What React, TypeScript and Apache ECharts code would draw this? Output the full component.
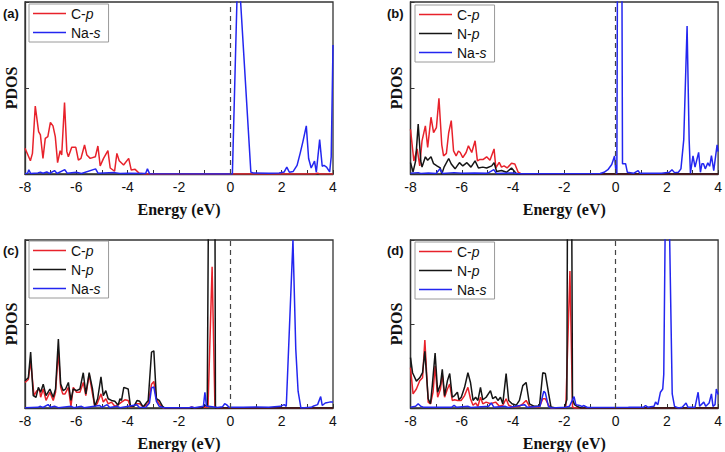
import React, { useEffect, useRef } from "react";
import * as echarts from "echarts";

// x ticks / labels
const xTicks = [-8, -6, -4, -2, 0, 2, 4];
const panelLabels = ["(a)", "(b)", "(c)", "(d)"];

// Panel (a)
const aCp = [[-8,0.15],[-7.79,0.077],[-7.71,0.12],[-7.6,0.395],[-7.47,0.246],[-7.4,0.227],[-7.3,0.091],[-7.21,0.207],[-7.11,0.217],[-7.01,0.3],[-6.91,0.28],[-6.82,0.217],[-6.73,0.066],[-6.63,0.135],[-6.57,0.11],[-6.46,0.415],[-6.37,0.13],[-6.31,0.1],[-6.18,0.155],[-6.02,0.155],[-5.92,0.081],[-5.82,0.091],[-5.68,0.169],[-5.59,0.11],[-5.46,0.091],[-5.26,0.1],[-5.16,0.163],[-5.07,0.047],[-4.94,0.091],[-4.77,0.136],[-4.68,0.035],[-4.51,0.016],[-4.42,0.12],[-4.33,0.077],[-4.16,0.052],[-3.96,0.091],[-3.86,0.023],[-3.71,0.027],[-3.55,0.004],[-3.3,0],[3.3,0],[3.4,0.005],[3.5,0],[4,0]];
const aNas = [[-8,0.003],[-7.9,0.005],[-7.85,0.025],[-7.78,0.003],[-7.5,0.006],[-7.4,0.01],[-7.3,0.004],[-7.15,0.012],[-7.05,0.003],[-6.85,0.02],[-6.75,0.003],[-6.45,0.025],[-6.35,0.004],[-6.0,0.01],[-5.8,0.003],[-5.25,0.03],[-5.15,0.004],[-4.5,0.008],[-4.3,0.003],[-4.0,0.005],[-3.3,0.003],[-3.23,0.03],[-3.15,0.002],[0.08,0],[0.3,1.25],[0.8,0.01],[0.9,0.006],[1.5,0.005],[1.9,0.006],[2.1,0.012],[2.2,0.04],[2.3,0.01],[2.45,0.015],[2.6,0.05],[2.72,0.12],[2.83,0.19],[2.96,0.28],[3.05,0.09],[3.09,0.068],[3.15,0.035],[3.28,0.075],[3.35,0.01],[3.48,0.2],[3.58,0.045],[3.65,0.05],[3.75,0.04],[3.87,0.012],[3.93,0.1],[4.0,0.75]];

// Panel (b)
const bCp = [[-8,0.26],[-7.87,0.076],[-7.74,0.146],[-7.64,0.047],[-7.55,0.193],[-7.42,0.28],[-7.33,0.154],[-7.2,0.33],[-7.1,0.24],[-6.99,0.27],[-6.89,0.44],[-6.78,0.17],[-6.71,0.105],[-6.6,0.12],[-6.51,0.24],[-6.41,0.31],[-6.32,0.134],[-6.22,0.105],[-6.13,0.134],[-6.06,0.125],[-5.96,0.095],[-5.83,0.125],[-5.74,0.164],[-5.61,0.125],[-5.48,0.193],[-5.39,0.076],[-5.29,0.085],[-5.16,0.085],[-5.03,0.1],[-4.9,0.08],[-4.74,0.146],[-4.67,0.035],[-4.54,0.068],[-4.45,0.04],[-4.35,0.047],[-4.23,0.035],[-4.06,0.062],[-3.93,0.058],[-3.8,0.01],[-3.67,0],[4,0]];
const bNp = [[-8,0.066],[-7.9,0.012],[-7.8,0.076],[-7.7,0.29],[-7.6,0.076],[-7.55,0.04],[-7.42,0.1],[-7.33,0.08],[-7.2,0.1],[-7.1,0.06],[-6.97,0.047],[-6.84,0.035],[-6.78,0.0],[-6.69,0.04],[-6.51,0.09],[-6.41,0.058],[-6.26,0.03],[-6.09,0.066],[-5.96,0.047],[-5.8,0.066],[-5.64,0.04],[-5.48,0.076],[-5.35,0.035],[-5.18,0.04],[-5.03,0.035],[-4.83,0.047],[-4.74,0.066],[-4.64,0.015],[-4.45,0.02],[-4.25,0.01],[-4.06,0.035],[-3.86,0.0],[4,0]];
const bNas = [[-8,0.004],[-7.7,0.008],[-7.6,0.003],[-7.3,0.006],[-7.0,0.003],[-6.85,0.03],[-6.75,0.003],[-6.3,0.008],[-6.0,0.004],[-5.5,0.006],[-5.0,0.004],[-4.75,0.025],[-4.65,0.003],[-4.0,0.006],[-3.8,0.002],[-0.6,0.003],[-0.45,0.01],[-0.3,0.025],[-0.15,0.055],[-0.04,0.105],[0.02,0.002],[0.05,0.005],[0.1,2.5],[0.22,2.5],[0.27,0.06],[0.39,0.06],[0.46,0.01],[0.7,0.004],[0.88,0.02],[0.95,0.004],[1.8,0.004],[2.1,0.01],[2.2,0.025],[2.3,0.008],[2.45,0.01],[2.55,0.03],[2.66,0.2],[2.79,0.86],[2.87,0.2],[2.92,0.004],[3.02,0.105],[3.1,0.04],[3.24,0.126],[3.31,0.01],[3.37,0.06],[3.43,0.06],[3.5,0.03],[3.6,0.065],[3.67,0.045],[3.74,0.107],[3.83,0.02],[3.96,0.17],[4.0,0.13]];

// Panel (c)
const cCp = [[-8,0.152],[-7.87,0.17],[-7.78,0.28],[-7.65,0.074],[-7.55,0.1],[-7.44,0.113],[-7.39,0.064],[-7.29,0.113],[-7.18,0.045],[-7.03,0.094],[-6.9,0.045],[-6.81,0.094],[-6.7,0.337],[-6.61,0.123],[-6.53,0.084],[-6.44,0.084],[-6.31,0.123],[-6.21,0.01],[-6.12,0.123],[-5.99,0.094],[-5.86,0.094],[-5.73,0.152],[-5.63,0.074],[-5.5,0.2],[-5.37,0.084],[-5.28,0.01],[-5.19,0.025],[-5.04,0.084],[-4.95,0.035],[-4.85,0.055],[-4.76,0.025],[-4.63,0.035],[-4.5,0.01],[-4.33,0.025],[-4.24,0.035],[-4.11,0.049],[-3.98,0.045],[-3.89,0.006],[-3.78,0.01],[-3.65,0.025],[-3.53,0.025],[-3.4,0.006],[-3.2,0.025],[-3.07,0.142],[-2.98,0.158],[-2.88,0.055],[-2.77,0.025],[-2.62,0],[-1.6,0],[-1.51,0.006],[-1.4,0],[-0.87,0.006],[-0.71,0.84],[-0.6,0.006],[-0.5,0],[4,0]];
const cNp = [[-8,0.162],[-7.87,0.18],[-7.78,0.333],[-7.68,0.074],[-7.57,0.064],[-7.48,0.123],[-7.39,0.094],[-7.29,0.142],[-7.18,0.074],[-7.03,0.113],[-6.9,0.064],[-6.81,0.113],[-6.7,0.41],[-6.61,0.142],[-6.51,0.103],[-6.42,0.113],[-6.31,0.152],[-6.21,0.045],[-6.12,0.113],[-5.99,0.103],[-5.86,0.113],[-5.73,0.21],[-5.63,0.084],[-5.5,0.21],[-5.37,0.113],[-5.28,0.01],[-5.17,0.055],[-5.04,0.185],[-4.95,0.074],[-4.85,0.103],[-4.76,0.055],[-4.63,0.045],[-4.5,0.04],[-4.37,0.016],[-4.3,0.055],[-4.24,0.045],[-4.15,0.123],[-3.98,0.113],[-3.89,0.01],[-3.76,0.01],[-3.63,0.045],[-3.53,0.04],[-3.4,0.006],[-3.2,0.045],[-3.07,0.333],[-2.98,0.34],[-2.88,0.055],[-2.77,0.045],[-2.64,0.01],[-2.55,0],[-1.1,0],[-1.0,0.016],[-0.9,0.01],[-0.8,2.5],[-0.62,2.5],[-0.58,0],[4,0]];
const cNas = [[-8,0.002],[-7.5,0.004],[-7.4,0.01],[-7.3,0.003],[-7.1,0.02],[-7.0,0.004],[-6.85,0.01],[-6.7,0.002],[-6.2,0.01],[-6.1,0.002],[-5.8,0.01],[-5.7,0.002],[-5.1,0.015],[-5.0,0.004],[-4.8,0.02],[-4.7,0.003],[-4.4,0.01],[-4.3,0.002],[-3.65,0.02],[-3.55,0.004],[-3.3,0.003],[-3.15,0.03],[-3.07,0.12],[-2.98,0.125],[-2.88,0.04],[-2.77,0.01],[-2.6,0.002],[-1.6,0.002],[-1.5,0.006],[-1.4,0.002],[-1.05,0.01],[-0.99,0.094],[-0.93,0.01],[-0.85,0.01],[-0.5,0.003],[-0.3,0.008],[-0.22,0.025],[-0.15,0.02],[-0.05,0.004],[0.5,0.004],[1.0,0.006],[1.5,0.004],[1.95,0.01],[2.1,0.02],[2.18,0.01],[2.44,1.0],[2.55,0.35],[2.64,0.1],[2.75,0],[3.15,0.004],[3.22,0.01],[3.4,0.02],[3.52,0.068],[3.58,0.015],[3.7,0.03],[3.87,0.035],[4.0,0.035]];

// Panel (d)
const dCp = [[-8,0.24],[-7.9,0.084],[-7.77,0.113],[-7.64,0.162],[-7.53,0.18],[-7.44,0.405],[-7.31,0.035],[-7.22,0.025],[-7.12,0.094],[-7.04,0.25],[-6.94,0.064],[-6.83,0.113],[-6.76,0.2],[-6.67,0.064],[-6.56,0.113],[-6.47,0.142],[-6.37,0.045],[-6.28,0.049],[-6.17,0.045],[-6.02,0.045],[-5.89,0.074],[-5.76,0.123],[-5.66,0.055],[-5.56,0.016],[-5.46,0.03],[-5.37,0.01],[-5.27,0.064],[-5.18,0.025],[-5.05,0.035],[-4.88,0.025],[-4.68,0.035],[-4.53,0.01],[-4.4,0.016],[-4.27,0.055],[-4.17,0.016],[-4.01,0.006],[-3.75,0.01],[-3.62,0.025],[-3.49,0.045],[-3.36,0.01],[-2.97,0.006],[-2.84,0.055],[-2.74,0.055],[-2.61,0.016],[-2.52,0],[-2.0,0],[-1.94,0.006],[-1.78,0.815],[-1.68,0.006],[-1.6,0],[4,0]];
const dNp = [[-8,0.3],[-7.92,0.21],[-7.77,0.16],[-7.64,0.18],[-7.53,0.21],[-7.44,0.337],[-7.31,0.055],[-7.22,0.025],[-7.15,0.133],[-7.04,0.327],[-6.94,0.094],[-6.83,0.142],[-6.76,0.23],[-6.67,0.074],[-6.56,0.162],[-6.47,0.205],[-6.37,0.064],[-6.28,0.074],[-6.17,0.094],[-6.11,0.049],[-6.02,0.064],[-5.89,0.123],[-5.76,0.21],[-5.66,0.152],[-5.56,0.045],[-5.46,0.064],[-5.37,0.045],[-5.27,0.123],[-5.18,0.049],[-5.05,0.064],[-4.88,0.103],[-4.79,0.055],[-4.68,0.068],[-4.59,0.045],[-4.49,0.064],[-4.4,0.025],[-4.27,0.205],[-4.17,0.045],[-4.04,0.025],[-3.88,0.016],[-3.75,0.045],[-3.62,0.133],[-3.49,0.152],[-3.36,0.025],[-3.17,0.01],[-2.97,0.01],[-2.84,0.21],[-2.74,0.205],[-2.61,0.084],[-2.52,0.006],[-2.33,0],[-2.0,0],[-1.9,0.05],[-1.84,3],[-1.76,3],[-1.68,0.05],[-1.6,0.02],[-1.5,0.01],[-1.35,0],[4,0]];
const dNas = [[-8,0.005],[-7.8,0.01],[-7.7,0.025],[-7.6,0.01],[-7.5,0.005],[-6.4,0.004],[-6.3,0.015],[-6.2,0.004],[-5.75,0.01],[-5.65,0.003],[-4.95,0.01],[-4.85,0.03],[-4.75,0.005],[-4.3,0.01],[-4.2,0.003],[-3.55,0.02],[-3.45,0.004],[-2.95,0.01],[-2.8,0.1],[-2.74,0.09],[-2.62,0.01],[-2.5,0],[-1.95,0.005],[-1.8,0.01],[-1.62,0.068],[-1.55,0.02],[-1.4,0.015],[-1.3,0.008],[-1.25,0.015],[-1.1,0.003],[0.5,0.004],[1.1,0.005],[1.17,0.015],[1.25,0.005],[1.5,0.01],[1.56,0.035],[1.65,0.02],[1.75,0.094],[1.84,0.113],[1.88,0.2],[1.95,1.3],[2.05,1.5],[2.1,1.1],[2.21,0.084],[2.3,0.01],[2.45,0],[2.6,0.005],[2.75,0.03],[2.82,0.005],[3.1,0.005],[3.22,0.094],[3.28,0.01],[3.44,0.035],[3.52,0.01],[3.65,0.03],[3.74,0.084],[3.8,0.01],[3.88,0.02],[3.93,0.113],[4.0,0.08]];

const panelData = [
  { cp: aCp, np: null as number[][] | null, nas: aNas },
  { cp: bCp, np: bNp, nas: bNas },
  { cp: cCp, np: cNp, nas: cNas },
  { cp: dCp, np: dNp, nas: dNas },
];

const grids = [
  { left: 25, top: 2, width: 308, height: 172 },
  { left: 410.5, top: 2, width: 308.5, height: 172 },
  { left: 25, top: 240, width: 308, height: 171 },
  { left: 410.5, top: 240, width: 308.5, height: 171 },
];
const legendPos = [
  { left: 29, top: 4 },
  { left: 415, top: 5 },
  { left: 29, top: 241 },
  { left: 415, top: 242 },
];
const labelPos = [
  { x: 3, y: 15 },
  { x: 387, y: 15 },
  { x: 3, y: 252 },
  { x: 387, y: 252 },
];

const colors: Record<string, string> = { "C-p": "#e8222b", "N-p": "#151515", "Na-s": "#2326f0" };
const SANS = "'Liberation Sans', Arial, sans-serif";
const SERIF = "'Liberation Serif', 'Times New Roman', serif";

export default function App() {
  const ref = useRef<HTMLDivElement>(null);
  useEffect(() => {
    if (!ref.current) return;
    const chart = echarts.init(ref.current, null, { renderer: "svg" });
    const xAxes: any[] = [];
    const yAxes: any[] = [];
    const series: any[] = [];
    const legends: any[] = [];
    const graphics: any[] = [];
    grids.forEach((g, i) => {
      xAxes.push({
        type: "value", gridIndex: i, min: xTicks[0], max: xTicks[xTicks.length - 1], interval: 2,
        name: "Energy (eV)", nameLocation: "middle", nameGap: 27,
        nameTextStyle: { fontFamily: SERIF, fontWeight: "bold", fontSize: 16, color: "#111" },
        axisLine: { show: true, onZero: false, lineStyle: { color: "#333", width: 1.3 } },
        axisTick: { show: true, inside: true, length: 4, lineStyle: { color: "#333" } },
        minorTick: { show: true, splitNumber: 2, length: 4, lineStyle: { color: "#333" } },
        axisLabel: { fontFamily: SANS, fontSize: 14, color: "#111", margin: 6 },
        splitLine: { show: false },
      });
      yAxes.push({
        type: "value", gridIndex: i, min: 0, max: 1, interval: 0.5,
        name: "PDOS", nameLocation: "middle", nameGap: 6, nameRotate: 90,
        nameTextStyle: { fontFamily: SERIF, fontWeight: "bold", fontSize: 16, color: "#111" },
        axisLine: { show: true, onZero: false, lineStyle: { color: "#333", width: 1.3 } },
        axisTick: { show: true, inside: true, length: 4, lineStyle: { color: "#333" } },
        axisLabel: { show: false },
        splitLine: { show: false },
      });
      const pd = panelData[i];
      const list: [string, number[][] | null][] = [["C-p", pd.cp], ["N-p", pd.np], ["Na-s", pd.nas]];
      const names: string[] = [];
      list.forEach(([name, data]) => {
        if (!data) return;
        names.push(name);
        const s: any = {
          type: "line", name, xAxisIndex: i, yAxisIndex: i, data,
          symbol: "none", showSymbol: false, clip: true,
          lineStyle: { color: colors[name], width: 1.5 },
          itemStyle: { color: colors[name] },
        };
        if (name === "Na-s") {
          s.markLine = {
            silent: true, symbol: "none", label: { show: false },
            lineStyle: { type: [5, 4], color: "#444", width: 1.2 },
            data: [{ xAxis: 0 }],
          };
        }
        series.push(s);
      });
      legends.push({
        ...legendPos[i], orient: "vertical", data: names,
        icon: "rect", itemWidth: 33, itemHeight: 1.7, itemGap: 4,
        padding: [2, 8, 2, 4], borderColor: "#9a9a9a", borderWidth: 1,
        selectedMode: false,
        textStyle: { fontFamily: SANS, fontSize: 14, color: "#111", lineHeight: 15,
          rich: { i: { fontFamily: SANS, fontSize: 14, fontStyle: "italic", color: "#111", lineHeight: 15 } } },
        formatter: (n: string) => n.replace(/-(\w)$/, "-{i|$1}"),
      });
      graphics.push({
        type: "text", left: labelPos[i].x, top: labelPos[i].y - 8,
        style: { text: panelLabels[i], font: `bold 13px ${SANS}`, fill: "#111" },
      });
    });
    chart.setOption({
      animation: false,
      backgroundColor: "#fff",
      grid: grids.map((g) => ({ ...g, show: true, borderColor: "#333", borderWidth: 1.3, backgroundColor: "transparent" })),
      xAxis: xAxes,
      yAxis: yAxes,
      legend: legends,
      series,
      graphic: graphics,
    });
    return () => chart.dispose();
  }, []);
  return <div ref={ref} style={{ position: "fixed", left: 0, top: 0, width: 725, height: 452 }} />;
}
